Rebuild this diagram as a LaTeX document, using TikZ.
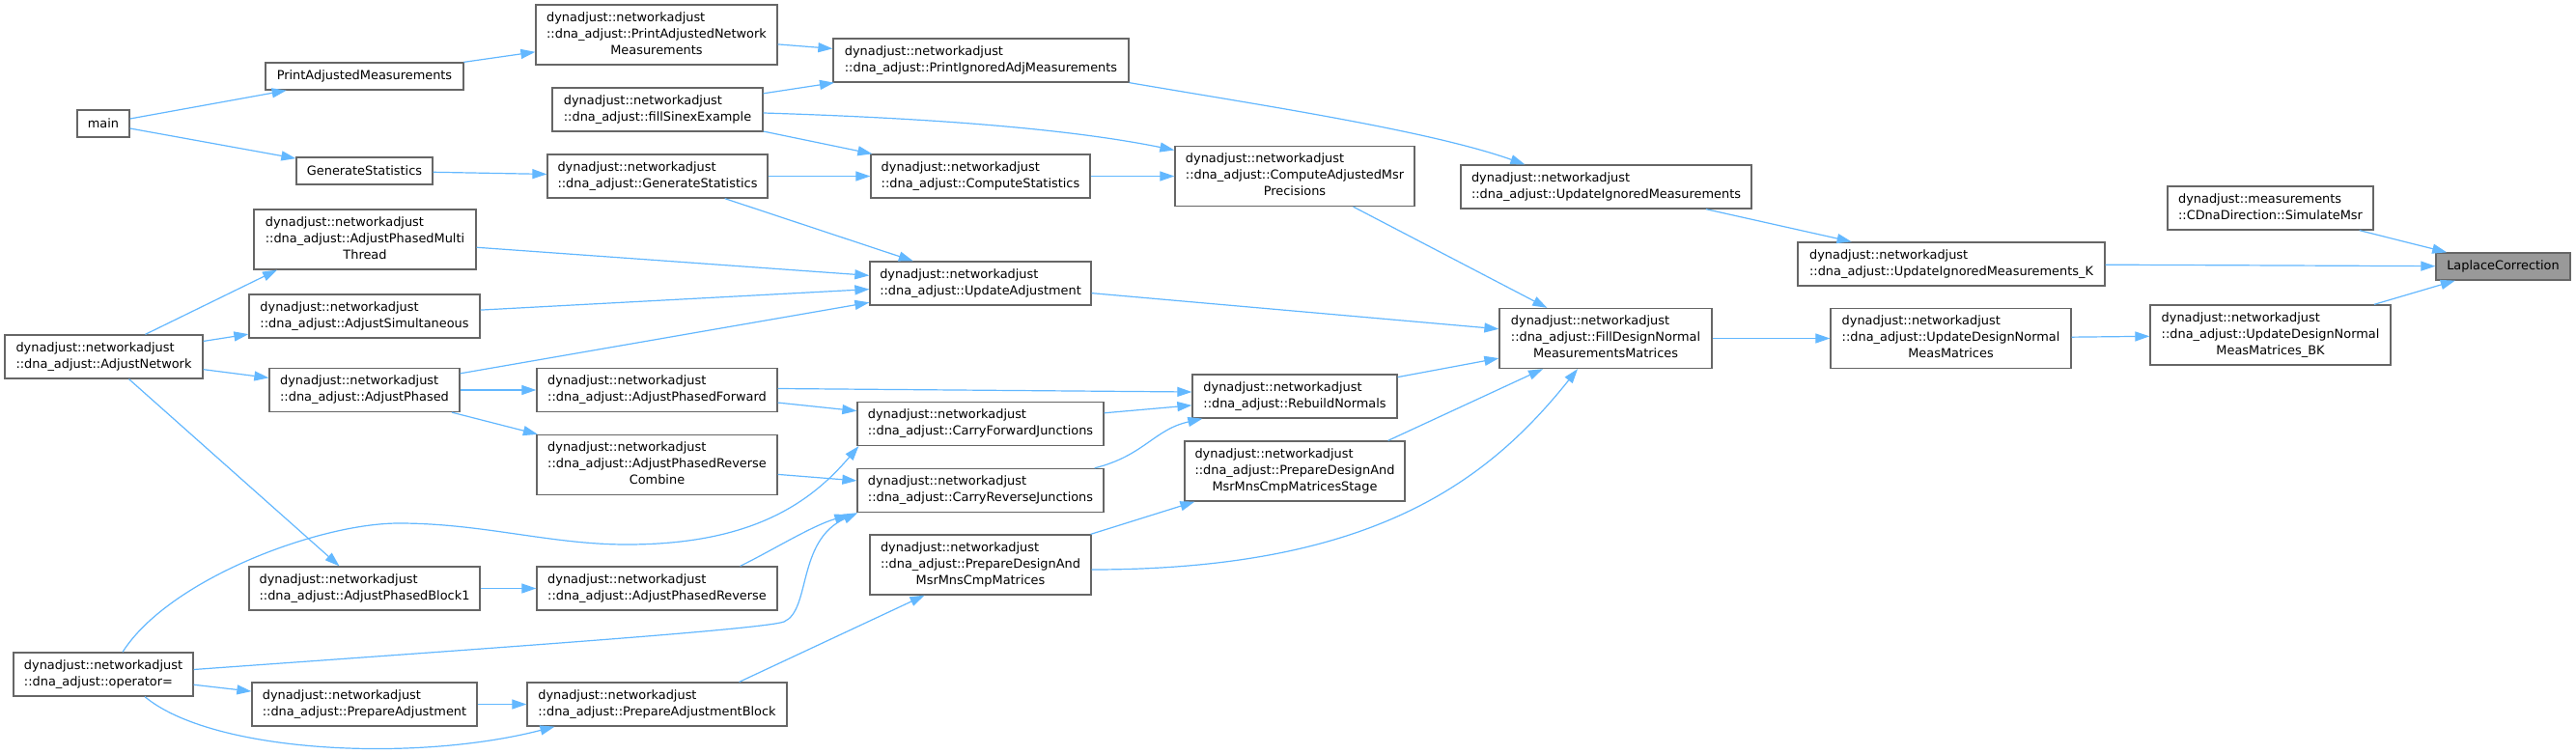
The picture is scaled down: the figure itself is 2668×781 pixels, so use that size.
\documentclass[tikz,border=0pt]{standalone}
\usepackage{fontspec}
\setmainfont{DejaVu Sans}
\usepackage{xcolor}
\usetikzlibrary{arrows.meta}
\definecolor{edgeblue}{HTML}{63B8FF}
\definecolor{boxgray}{HTML}{666666}
\definecolor{hlgray}{HTML}{999999}
\newcommand{\twoline}[2]{\begin{tabular}{@{}l@{}}#1\\#2\end{tabular}}
\newcommand{\threeline}[3]{\begin{tabular}{@{}l@{}}#1\\#2\\\multicolumn{1}{@{}c@{}}{#3}\end{tabular}}
\begin{document}
\begin{tikzpicture}[x=1pt,y=-1pt,>={Triangle[length=15pt,width=10pt]},
fn/.style={draw=boxgray,line width=1.3pt,fill=white,inner xsep=0pt,inner ysep=2pt,minimum height=28pt,font=\fontsize{12.9}{17}\selectfont},
tall/.style={minimum height=45pt},
taller/.style={minimum height=62pt},
hl/.style={fill=hlgray},
call/.style={->,draw=edgeblue,line width=1.2pt}]
\fill[white](0,0)rectangle(2668,781);
\useasboundingbox(0,0)rectangle(2668,781);
% column 1
\node[fn,minimum width=54pt](main)at(107,128){main};
\node[fn,tall,minimum width=205pt](an)at(107.5,369.5){\twoline{dynadjust::networkadjust}{::dna\_adjust::AdjustNetwork}};
\node[fn,tall,minimum width=186pt](op)at(107,698.5){\twoline{dynadjust::networkadjust}{::dna\_adjust::operator=}};
% column 2
\node[fn,minimum width=205pt](pam)at(377.5,79){PrintAdjustedMeasurements};
\node[fn,minimum width=141pt](gs)at(377.5,177){GenerateStatistics};
\node[fn,taller,minimum width=230pt](apmt)at(378,248){\threeline{dynadjust::networkadjust}{::dna\_adjust::AdjustPhasedMulti}{Thread}};
\node[fn,tall,minimum width=239pt](asim)at(377.5,327.5){\twoline{dynadjust::networkadjust}{::dna\_adjust::AdjustSimultaneous}};
\node[fn,tall,minimum width=197pt](ap)at(377.5,404){\twoline{dynadjust::networkadjust}{::dna\_adjust::AdjustPhased}};
\node[fn,tall,minimum width=239pt](apb1)at(377.5,609.5){\twoline{dynadjust::networkadjust}{::dna\_adjust::AdjustPhasedBlock1}};
\node[fn,tall,minimum width=233pt](pa)at(377.5,729.5){\twoline{dynadjust::networkadjust}{::dna\_adjust::PrepareAdjustment}};
% column 3
\node[fn,taller,minimum width=250pt](pnm)at(680,36){\threeline{dynadjust::networkadjust}{::dna\_adjust::PrintAdjustedNetwork}{Measurements}};
\node[fn,tall,minimum width=218pt](fse)at(681,113.5){\twoline{dynadjust::networkadjust}{::dna\_adjust::fillSinexExample}};
\node[fn,tall,minimum width=228pt](dgs)at(681,182.5){\twoline{dynadjust::networkadjust}{::dna\_adjust::GenerateStatistics}};
\node[fn,tall,minimum width=249pt](apf)at(680.5,404){\twoline{dynadjust::networkadjust}{::dna\_adjust::AdjustPhasedForward}};
\node[fn,taller,minimum width=249pt](aprc)at(680.5,481.5){\threeline{dynadjust::networkadjust}{::dna\_adjust::AdjustPhasedReverse}{Combine}};
\node[fn,tall,minimum width=249pt](apr)at(680.5,609.5){\twoline{dynadjust::networkadjust}{::dna\_adjust::AdjustPhasedReverse}};
\node[fn,tall,minimum width=269pt](pab)at(680.5,729.5){\twoline{dynadjust::networkadjust}{::dna\_adjust::PrepareAdjustmentBlock}};
% column 4
\node[fn,tall,minimum width=306pt](pia)at(1016,62.5){\twoline{dynadjust::networkadjust}{::dna\_adjust::PrintIgnoredAdjMeasurements}};
\node[fn,tall,minimum width=227pt](cs)at(1015.5,182.5){\twoline{dynadjust::networkadjust}{::dna\_adjust::ComputeStatistics}};
\node[fn,tall,minimum width=229pt](ua)at(1015.5,293.5){\twoline{dynadjust::networkadjust}{::dna\_adjust::UpdateAdjustment}};
\node[fn,tall,minimum width=255pt](cfj)at(1015.5,439){\twoline{dynadjust::networkadjust}{::dna\_adjust::CarryForwardJunctions}};
\node[fn,tall,minimum width=255pt](crj)at(1015.5,508){\twoline{dynadjust::networkadjust}{::dna\_adjust::CarryReverseJunctions}};
\node[fn,taller,minimum width=229pt](pdm)at(1015.5,585){\threeline{dynadjust::networkadjust}{::dna\_adjust::PrepareDesignAnd}{MsrMnsCmpMatrices}};
% column 5
\node[fn,taller,minimum width=248pt](camp)at(1341,182.5){\threeline{dynadjust::networkadjust}{::dna\_adjust::ComputeAdjustedMsr}{Precisions}};
\node[fn,tall,minimum width=212pt](rn)at(1341,410.5){\twoline{dynadjust::networkadjust}{::dna\_adjust::RebuildNormals}};
\node[fn,taller,minimum width=228pt](pds)at(1341,488){\threeline{dynadjust::networkadjust}{::dna\_adjust::PrepareDesignAnd}{MsrMnsCmpMatricesStage}};
% columns 6 to 9
\node[fn,tall,minimum width=301pt](uim)at(1663.5,193.5){\twoline{dynadjust::networkadjust}{::dna\_adjust::UpdateIgnoredMeasurements}};
\node[fn,taller,minimum width=220pt](fdn)at(1663,350.5){\threeline{dynadjust::networkadjust}{::dna\_adjust::FillDesignNormal}{MeasurementsMatrices}};
\node[fn,tall,minimum width=318pt](uimk)at(2021,273.5){\twoline{dynadjust::networkadjust}{::dna\_adjust::UpdateIgnoredMeasurements\_K}};
\node[fn,taller,minimum width=249pt](udn)at(2020.5,350.5){\threeline{dynadjust::networkadjust}{::dna\_adjust::UpdateDesignNormal}{MeasMatrices}};
\node[fn,tall,minimum width=213pt](sim)at(2351.5,215.5){\twoline{dynadjust::measurements}{::CDnaDirection::SimulateMsr}};
\node[fn,taller,minimum width=249pt](udbk)at(2351.5,347){\threeline{dynadjust::networkadjust}{::dna\_adjust::UpdateDesignNormal}{MeasMatrices\_BK}};
\node[fn,hl,minimum width=139pt](lap)at(2592.5,276){LaplaceCorrection};
% calls
\draw[call](main)--(pam);
\draw[call](main)--(gs);
\draw[call](pam)--(pnm);
\draw[call](gs)--(dgs);
\draw[call](pnm)--(pia);
\draw[call](fse)--(pia);
\draw[call]([yshift=-3.5pt]fse.east)..controls(950,122)and(1100,132)..([yshift=27pt]camp.west);
\draw[call](fse)--(cs);
\draw[call](dgs)--(cs);
\draw[call](dgs)--(ua);
\draw[call](cs)--(camp);
\draw[call](pia.south east)..controls(1300,108)and(1480,135)..([xshift=67pt]uim.north west);
\draw[call](camp)--(fdn);
\draw[call](ua)--(fdn);
\draw[call](uim)--(uimk);
\draw[call](uimk)--(lap);
\draw[call](sim)--(lap);
\draw[call](udbk)--(lap);
\draw[call](udn)--(udbk);
\draw[call](fdn)--(udn);
\draw[call](apmt)--(ua);
\draw[call](asim)--(ua);
\draw[call](ap)--(ua);
\draw[call]([xshift=43pt]an.north)--([xshift=-91pt]apmt.south);
\draw[call](an)--(asim);
\draw[call](an)--(ap);
\draw[call](an)--(apb1);
\draw[call](ap)--(apf);
\draw[call](ap)--(aprc);
\draw[call]([yshift=1.5pt]apf.east)--([yshift=4.5pt]rn.west);
\draw[call](apf)--(cfj);
\draw[call](aprc)--(crj);
\draw[call](cfj)--(rn);
\draw[call]([xshift=-10pt]crj.north east)..controls(1185,472)and(1195,445)..([xshift=11pt]rn.south west);
\draw[call](rn)--(fdn);
\draw[call]([xshift=-18pt]pds.north east)--([xshift=-65pt]fdn.south);
\draw[call]([yshift=-5pt]pdm.east)..controls(1420,590)and(1540,500)..([xshift=-29pt]fdn.south);
\draw[call]([xshift=-1pt]pdm.north east)--([xshift=11pt]pds.south west);
\draw[call]([xshift=20pt]op.north)..controls(175,600)and(330,542)..(413,542)
  ..controls(500,542)and(570,564)..(649,564)
  ..controls(780,564)and(840,520)..([xshift=2pt]cfj.south west);
\draw[call]([yshift=5pt]op.east)..controls(500,672)and(790,652)..(812,644)
  ..controls(840,632)and(825,560)..([xshift=1pt]crj.south west);
\draw[call]([xshift=-39pt]apr.north east)..controls(800,570)and(840,545)..([xshift=-8pt,yshift=-2pt]crj.south west);
\draw[call](op)--(pa);
\draw[call]([xshift=43pt]op.south)..controls(220,780)and(430,790)..([xshift=-106pt]pab.south);
\draw[call](apb1)--(apr);
\draw[call](pa)--(pab);
\draw[call]([xshift=-50pt]pab.north east)--([xshift=-58pt]pdm.south);
\end{tikzpicture}
\end{document}
